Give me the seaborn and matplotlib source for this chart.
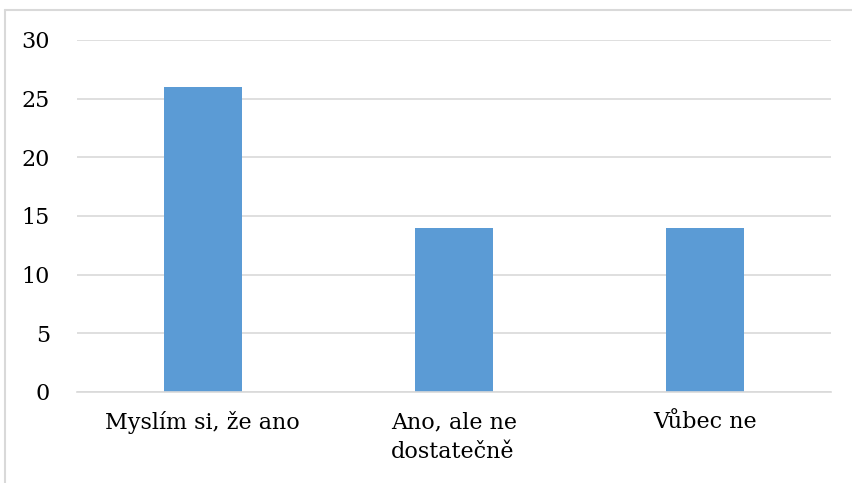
import matplotlib
matplotlib.use("Agg")
from matplotlib import pyplot as plt
from matplotlib.lines import Line2D
import seaborn as sns
import pandas as pd

categories = ["Myslím si, že ano", "Ano, ale ne\ndostatečně", "Vůbec ne"]
values = [26, 14, 14]
yticks = [0, 5, 10, 15, 20, 25, 30]

df = pd.DataFrame({"kategorie": categories, "pocet": values})

sns.set_theme(style="white")
plt.rcParams['font.family'] = ['DejaVu Serif']

fig = plt.figure(figsize=(8.53, 4.83), dpi=100)
# outer chart frame (only top and left edges are visible)
top = 1 - 9.5 / 483
left = 5 / 853
fig.add_artist(Line2D([left, 1], [top, top], transform=fig.transFigure,
                      color="#D9D9D9", linewidth=1.5))
fig.add_artist(Line2D([left, left], [0, top], transform=fig.transFigure,
                      color="#D9D9D9", linewidth=1.5))

ax = fig.add_axes([77 / 853, 1 - 392 / 483, 754 / 853, 352 / 483])

sns.barplot(data=df, x="kategorie", y="pocet", color="#5B9BD5", saturation=1,
            width=0.31, linewidth=0, ax=ax)

ax.set_ylim(0, 30)
ax.set_yticks(yticks)
ax.yaxis.grid(True, color="#D9D9D9", linewidth=1.2)
ax.set_axisbelow(True)
for s in ["top", "right", "left"]:
    ax.spines[s].set_visible(False)
ax.spines["bottom"].set_color("#D9D9D9")
ax.spines["bottom"].set_linewidth(1.2)
ax.tick_params(axis="both", length=0, labelsize=16, colors="black")
ax.tick_params(axis="y", pad=19.5)
ax.tick_params(axis="x", pad=14)
ax.set_xlabel("")
ax.set_ylabel("")
for lbl in ax.get_xticklabels():
    lbl.set_multialignment("left")
    lbl.set_verticalalignment("top")
    lbl.set_linespacing(1.45)

fig.savefig("out.png", dpi=100)
